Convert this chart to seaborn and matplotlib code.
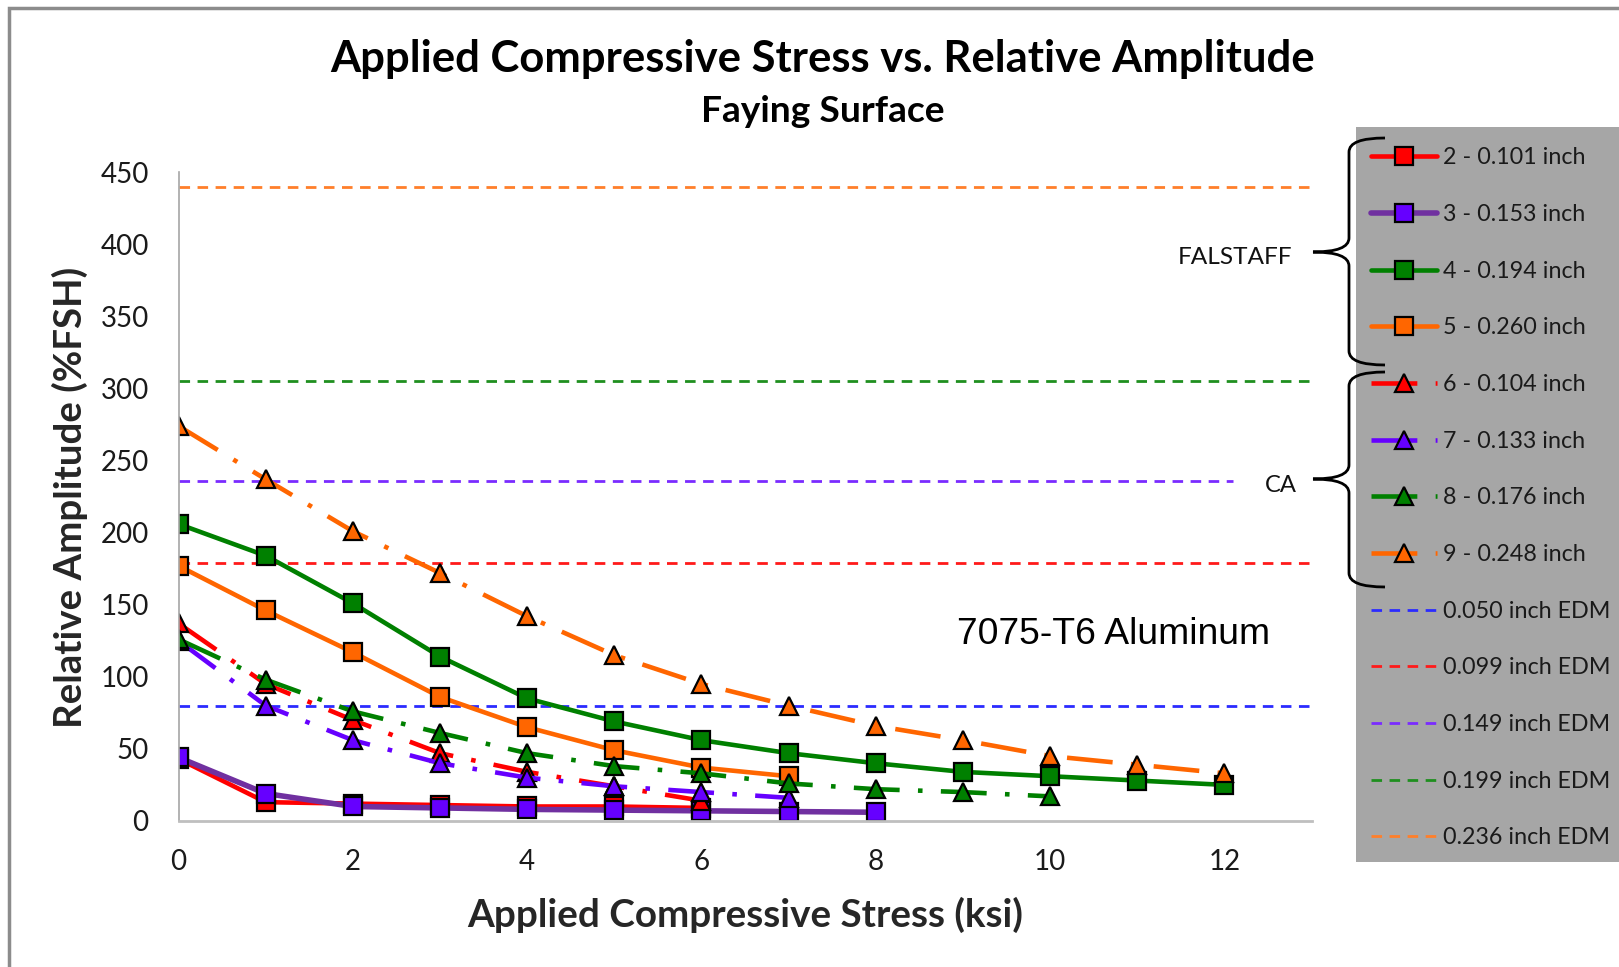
import matplotlib
matplotlib.use("Agg")
import matplotlib.pyplot as plt
import seaborn as sns
from matplotlib.path import Path
from matplotlib.patches import PathPatch, Rectangle

# ---------------- data ----------------
stress_2 = [0, 1, 2, 3, 4, 5, 6]
amp_2 = [43, 13, 12, 11, 10, 10, 9]
stress_3 = [0, 1, 2, 3, 4, 5, 6, 7, 8]
amp_3 = [44, 19, 10, 9, 8, 7.5, 7, 6.5, 6]
stress_4 = [0, 1, 2, 3, 4, 5, 6, 7, 8, 9, 10, 11, 12]
amp_4 = [206, 184, 151, 114, 85, 69, 56, 47, 40, 34, 31, 28, 25]
stress_5 = [0, 1, 2, 3, 4, 5, 6, 7]
amp_5 = [177, 146, 117, 86, 65, 49, 37, 31]
stress_6 = [0, 1, 2, 3, 4, 5, 6]
amp_6 = [137, 95, 70, 47, 34, 24, 14]
stress_7 = [0, 1, 2, 3, 4, 5, 6, 7]
amp_7 = [125, 80, 56, 40, 30, 24, 20, 16]
stress_8 = [0, 1, 2, 3, 4, 5, 6, 7, 8, 9, 10]
amp_8 = [126, 98, 76, 61, 47, 38, 33, 26, 22, 20, 17]
stress_9 = [0, 1, 2, 3, 4, 5, 6, 7, 8, 9, 10, 11, 12]
amp_9 = [274, 237, 201, 172, 142, 115, 95, 80, 66, 56, 45, 39, 33]

crack_labels = ["2 - 0.101 inch", "3 - 0.153 inch", "4 - 0.194 inch", "5 - 0.260 inch",
                "6 - 0.104 inch", "7 - 0.133 inch", "8 - 0.176 inch", "9 - 0.248 inch"]
edm_labels = ["0.050 inch EDM", "0.099 inch EDM", "0.149 inch EDM",
              "0.199 inch EDM", "0.236 inch EDM"]
edm_amp = [80, 179, 236, 305, 440]
edm_stress_end = [13, 13, 12.1, 13, 13]

x_ticks = [0, 2, 4, 6, 8, 10, 12]
y_ticks = [0, 50, 100, 150, 200, 250, 300, 350, 400, 450]

title = "Applied Compressive Stress vs. Relative Amplitude"
subtitle = "Faying Surface"
x_label = "Applied Compressive Stress (ksi)"
y_label = "Relative Amplitude (%FSH)"
note = "7075-T6 Aluminum"
group_labels = ["FALSTAFF", "CA"]

# ---------------- style ----------------
W, H = 1619, 967
sns.set_style("white")
plt.rcParams["font.family"] = ["Lato", "DejaVu Sans"]

fig = plt.figure(figsize=(W / 100, H / 100), dpi=100)
fig.patch.set_facecolor("white")
ax = fig.add_axes([178.6 / W, 1 - 820.9 / H, (1311.5 - 178.6) / W, (820.9 - 172.4) / H])

RED = "#ff0000"
PURP_LINE = "#7030a0"
VIOLET = "#6600ff"
GREEN = "#008000"
ORANGE = "#ff6600"
edm_colors = ["#2b2bff", "#ff1a1a", "#7a2bff", "#1f8f1f", "#ff7f2a"]

dashdot = (0, (10, 4, 1, 4))

# EDM reference lines (drawn first, behind)
edm_handles = []
for v, xe, c, lab in zip(edm_amp, edm_stress_end, edm_colors, edm_labels):
    sns.lineplot(x=[0, xe], y=[v, v], ax=ax, color=c, linewidth=2.0,
                 linestyle=(0, (3.8, 2.7)), errorbar=None, legend=False, sort=False,
                 label=lab)
    edm_handles.append(ax.lines[-1])

series = [
    (stress_2, amp_2, RED, "s", RED, "-", 3.3),
    (stress_3, amp_3, PURP_LINE, "s", VIOLET, "-", 4.0),
    (stress_4, amp_4, GREEN, "s", GREEN, "-", 3.3),
    (stress_5, amp_5, ORANGE, "s", ORANGE, "-", 3.3),
    (stress_6, amp_6, RED, "^", RED, dashdot, 3.3),
    (stress_7, amp_7, VIOLET, "^", VIOLET, dashdot, 3.3),
    (stress_8, amp_8, GREEN, "^", GREEN, dashdot, 3.3),
    (stress_9, amp_9, ORANGE, "^", ORANGE, dashdot, 3.3),
]
crack_handles = []
for (xs, ys, lc, mk, mfc, ls, lw), lab in zip(series, crack_labels):
    sns.lineplot(x=xs, y=ys, ax=ax, color=lc, linewidth=lw, linestyle=ls,
                 marker=mk, markersize=12.5 if mk == "s" else 13.5,
                 markerfacecolor=mfc, markeredgecolor="black", markeredgewidth=1.6,
                 errorbar=None, legend=False, sort=False, label=lab)
    crack_handles.append(ax.lines[-1])

ax.set_xlim(0, 13)
ax.set_ylim(0, 450)
ax.set_xticks(x_ticks)
ax.set_yticks(y_ticks)
for s in ["top", "right"]:
    ax.spines[s].set_visible(False)
ax.spines["left"].set_color("#a6a6a6")
ax.spines["left"].set_linewidth(1.2)
ax.spines["bottom"].set_color("#bfbfbf")
ax.spines["bottom"].set_linewidth(2)
ax.grid(False)
ax.tick_params(axis="both", length=0, labelsize=20, colors="#1a1a1a")
ax.tick_params(axis="y", pad=21.5)
ax.tick_params(axis="x", pad=20)
ax.set_facecolor("white")

ax.set_xlabel(x_label, fontsize=24, fontweight="bold", va="center")
ax.xaxis.set_label_coords((745.5 - 178.6) / (1311.5 - 178.6), -(914.8 - 820.9) / (820.9 - 172.4))
ax.set_ylabel(y_label, fontsize=24, fontweight="bold", va="center")
ax.yaxis.set_label_coords((70 - 178.6) / (1311.5 - 178.6), (820.9 - 497) / (820.9 - 172.4))

t_title = fig.text(823 / W, 1 - 58.9 / H, title, ha="center", va="center",
                   fontsize=28, fontweight="bold", color="black")
t_sub = fig.text(823 / W, 1 - 111.5 / H, subtitle, ha="center", va="center",
                 fontsize=22, fontweight="bold", color="black")
t_note = fig.text(1114 / W, 1 - 635 / H, note, ha="center", va="center",
                  fontsize=25, family=["Liberation Sans", "DejaVu Sans"], color="black")
t_fal = fig.text(1235.5 / W, 1 - 258 / H, group_labels[0], ha="center", va="center",
                 fontsize=17, color="#111111")
t_ca = fig.text(1281 / W, 1 - 485 / H, group_labels[1], ha="center", va="center",
                fontsize=17, color="#111111")

# fit text widths to the reference
renderer = fig.canvas.get_renderer()
def fit(t, target, use_height=False):
    bb = t.get_window_extent(renderer)
    cur = bb.height if use_height else bb.width
    t.set_fontsize(t.get_fontsize() * target / cur)

fit(t_title, 984)
fit(t_sub, 243)
fit(t_note, 312)
fit(t_fal, 115)
fit(t_ca, 32)
fit(ax.xaxis.label, 556)
fit(ax.yaxis.label, 461, use_height=True)

# grey legend panel
fig.patches.append(Rectangle((1356 / W, 1 - 862 / H), (W - 1356) / W + 0.01, (862 - 127) / H,
                             transform=fig.transFigure, facecolor="#a6a6a6",
                             edgecolor="none", zorder=0))

# legend text size fitted to "2 - 0.101 inch" ~142 px wide
probe = fig.text(0, 0, crack_labels[0], fontsize=15)
fit(probe, 142.5)
leg_fs = probe.get_fontsize()
probe.remove()
fs_px = leg_fs * 100 / 72

leg = fig.legend(crack_handles + edm_handles, crack_labels + edm_labels,
                 loc="upper left", bbox_to_anchor=(1371 / W, 1 - 147.5 / H),
                 frameon=False, fontsize=leg_fs, handlelength=66 / fs_px,
                 handletextpad=6 / fs_px, labelspacing=1.53, borderpad=0,
                 borderaxespad=0, numpoints=1, labelcolor="#1a1a1a")
leg.set_zorder(5)

# braces
def brace(x_end, x_spine, x_tip, y_top, y_tip, y_bot, r=14):
    pts = [
        (x_end, y_top), (x_spine, y_top), (x_spine, y_top + r),
        (x_spine, y_tip - r),
        (x_spine, y_tip), (x_tip, y_tip),
        (x_spine, y_tip), (x_spine, y_tip + r),
        (x_spine, y_bot - r),
        (x_spine, y_bot), (x_end, y_bot),
    ]
    codes = [Path.MOVETO, Path.CURVE3, Path.CURVE3, Path.LINETO,
             Path.CURVE3, Path.CURVE3, Path.CURVE3, Path.CURVE3,
             Path.LINETO, Path.CURVE3, Path.CURVE3]
    verts = [(x / W, 1 - y / H) for x, y in pts]
    fig.patches.append(PathPatch(Path(verts, codes), transform=fig.transFigure,
                                 facecolor="none", edgecolor="black", linewidth=2, zorder=6))

brace(1385, 1349, 1313, 138, 252, 365)
brace(1385, 1349, 1313, 372, 479, 587)

# outer border (top and left visible in the reference)
fig.patches.append(Rectangle((9 / W, -0.05), 1.2, 1 - 7.5 / H + 0.05, transform=fig.transFigure,
                             facecolor="none", edgecolor="#8c8c8c", linewidth=2.5, zorder=10))

fig.savefig("out.png", dpi=100, facecolor="white")
